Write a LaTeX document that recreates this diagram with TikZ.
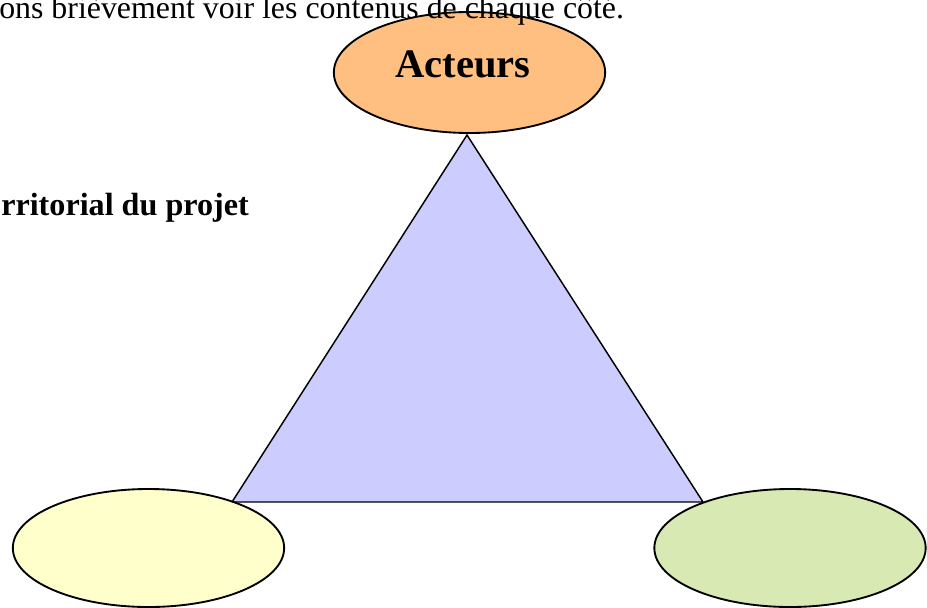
\documentclass[tikz,border=0pt]{standalone}
\usepackage{fontspec}
\setmainfont{Liberation Serif}
\usetikzlibrary{shapes.geometric}
\definecolor{acteurfill}{RGB}{255,191,128}
\definecolor{trifill}{RGB}{204,204,255}
\definecolor{yellowfill}{RGB}{255,255,204}
\definecolor{greenfill}{RGB}{216,233,180}
\begin{document}
\begin{tikzpicture}[x=0.75pt,y=-0.75pt,
  pole/.style={ellipse,draw=black,line width=1.4pt,minimum width=203.5pt,inner sep=0pt},
  bodytext/.style={font=\fontsize{23.9}{28}\selectfont,anchor=base west,inner sep=0pt},
  boldtext/.style={font=\fontsize{24.1}{28}\selectfont\bfseries,anchor=base west,inner sep=0pt}]
\useasboundingbox (0,0) rectangle (927,607);
\clip (0,0) rectangle (927,607);

% the triangle joining the three poles
\coordinate (apex) at (467,135);
\coordinate (baseleft) at (232,502);
\coordinate (baseright) at (703,502);
\draw[fill=trifill,line width=1.1pt,line join=miter] (apex) -- (baseleft) -- (baseright) -- cycle;

% the three poles
\node[pole,fill=acteurfill,minimum height=90.75pt] (acteurs) at (469.5,72.5) {};
\node[font=\fontsize{30.4}{34}\selectfont\bfseries,anchor=base,inner sep=0pt] (acteurslabel) at (463,77) {Acteurs};
\node[pole,fill=yellowfill,minimum height=88.5pt] (gauche) at (148.5,548) {};
\node[pole,fill=greenfill,minimum height=88.5pt] (droite) at (790,548) {};

% running text, set over the figure
\node[bodytext] (intro) at (-1,18) {ons brièvement voir les contenus de chaque côté.};
\node[boldtext] (ancrage) at (1,215) {rritorial du projet};
\end{tikzpicture}
\end{document}
